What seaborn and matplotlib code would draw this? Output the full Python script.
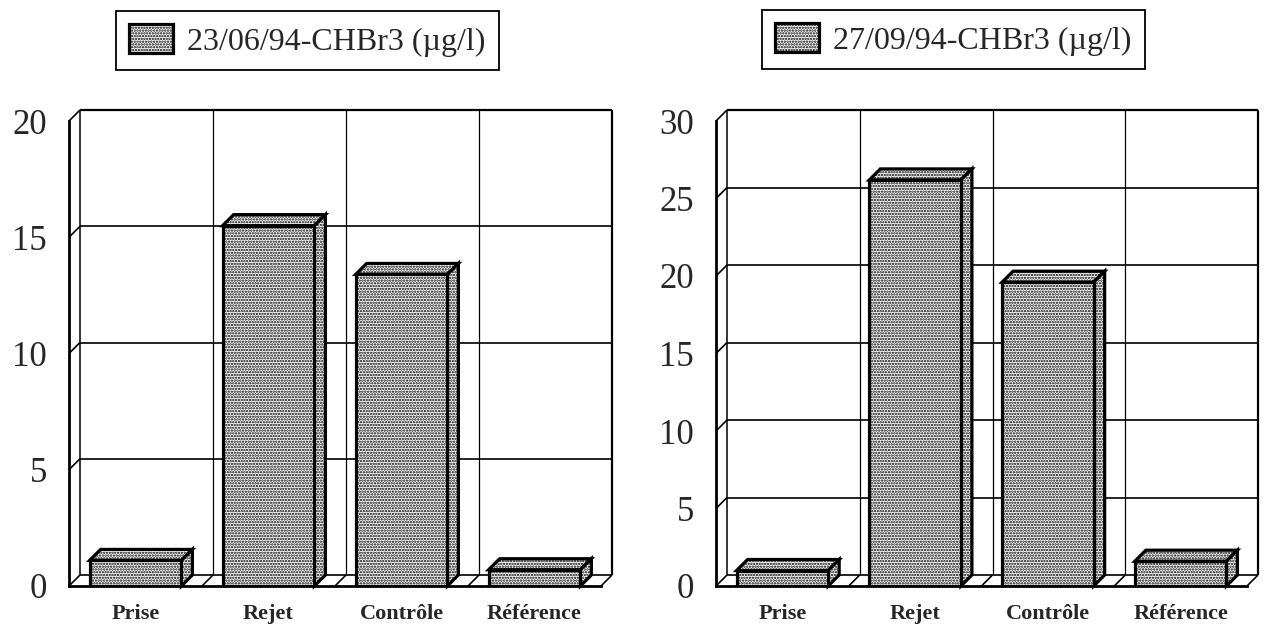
import matplotlib
matplotlib.use("Agg")
import matplotlib.pyplot as plt
from matplotlib.patches import Polygon, Patch
import pandas as pd
import seaborn as sns

# Sampling sites and CHBr3 concentrations (µg/l) for the two campaigns
categories = ["Prise", "Rejet", "Contrôle", "Référence"]
june_values = [1.1, 15.5, 13.4, 0.7]
sept_values = [1.0, 26.2, 19.6, 1.6]
june_label = "23/06/94-CHBr3 (µg/l)"
sept_label = "27/09/94-CHBr3 (µg/l)"
june_ticks = [0, 5, 10, 15, 20]
sept_ticks = [0, 5, 10, 15, 20, 25, 30]

W, H = 1266, 633
DEPTH = 11          # pseudo-3D depth offset, in pixels
HATCH = "......"    # stippled fill
EDGE_LW = 2.3

sns.set_style("white")
plt.rcParams["font.family"] = ["Liberation Serif", "DejaVu Serif"]
plt.rcParams["hatch.linewidth"] = 1.15

fig = plt.figure(figsize=(W / 100, H / 100), dpi=100)


def px_axes(left, top, right, bottom):
    return fig.add_axes([left / W, 1 - bottom / H, (right - left) / W, (bottom - top) / H])


def draw_panel(ax, values, ticks, label, legend_xy):
    df = pd.DataFrame({"site": categories, "value": values})
    sns.barplot(data=df, x="site", y="value", ax=ax, width=0.69, color="white",
                saturation=1, edgecolor="black", linewidth=EDGE_LW, errorbar=None)
    top = ticks[-1]
    ax.set_xlim(-0.5, len(categories) - 0.5)
    ax.set_ylim(0, top)
    x0, x1 = ax.get_xlim()

    # depth offsets converted to data units
    ddx = DEPTH * (x1 - x0) / ax.bbox.width
    ddy = DEPTH * top / ax.bbox.height

    line = dict(color="black", clip_on=False, zorder=1, solid_capstyle="butt")
    # back wall: horizontal gridlines, floor edge, top edge
    for t in ticks[1:-1]:
        ax.plot([x0 + ddx, x1 + ddx], [t + ddy] * 2, lw=1.2, **line)
    ax.plot([x0 + ddx, x1 + ddx], [ddy] * 2, lw=1.2, **line)
    ax.plot([x0 + ddx, x1 + ddx], [top + ddy] * 2, lw=1.6, **line)
    # back wall: category separators and side edges
    bounds = [x0 + i for i in range(len(categories) + 1)]
    for b in bounds[1:-1]:
        ax.plot([b + ddx] * 2, [ddy, top + ddy], lw=0.9, **line)
    ax.plot([x0 + ddx] * 2, [ddy, top + ddy], lw=1.1, **line)
    ax.plot([x1 + ddx] * 2, [ddy, top + ddy], lw=1.6, **line)
    # left wall diagonals at each tick
    for t in ticks:
        ax.plot([x0, x0 + ddx], [t, t + ddy], lw=1.2, **line)
    # floor diagonals at category boundaries
    for b in bounds[1:]:
        ax.plot([b, b + ddx], [0, ddy], lw=1.2, **line)

    # bars: front faces plus top and side faces
    for p in ax.patches:
        p.set_hatch(HATCH)
        p.set_zorder(4)
        x, w, h = p.get_x(), p.get_width(), p.get_height()
        top_face = [(x, h), (x + w, h), (x + w + ddx, h + ddy), (x + ddx, h + ddy)]
        side_face = [(x + w, 0), (x + w + ddx, ddy), (x + w + ddx, h + ddy), (x + w, h)]
        for poly in (top_face, side_face):
            ax.add_patch(Polygon(poly, closed=True, facecolor="white", edgecolor="black",
                                 hatch=HATCH, lw=EDGE_LW, joinstyle="miter",
                                 clip_on=False, zorder=3.5))

    # axes lines and ticks
    for s in ("top", "right"):
        ax.spines[s].set_visible(False)
    for s in ("left", "bottom"):
        ax.spines[s].set_linewidth(2.0)
        ax.spines[s].set_color("black")
        ax.spines[s].set_zorder(5)
    ax.set_yticks(ticks)
    ax.tick_params(axis="y", which="major", direction="out", length=5, width=2,
                   labelsize=25, pad=11, color="black")
    ax.set_xticks(range(len(categories)))
    ax.set_xticklabels(categories, fontsize=16, fontweight="bold")
    ax.set_xticks(bounds, minor=True)
    ax.tick_params(axis="x", which="major", length=0, pad=13)
    ax.tick_params(axis="x", which="minor", direction="out", length=5, width=2, color="black")
    ax.set_xlabel("")
    ax.set_ylabel("")
    ax.grid(False)
    ax.patch.set_alpha(0)

    handle = Patch(facecolor="white", edgecolor="black", hatch=HATCH, linewidth=EDGE_LW)
    leg = ax.legend([handle], [label], loc="upper left",
                    bbox_to_anchor=(legend_xy[0] / W, 1 - legend_xy[1] / H),
                    bbox_transform=fig.transFigure, borderaxespad=0, frameon=True,
                    fancybox=False, framealpha=1, edgecolor="black", prop={"size": 23},
                    handlelength=1.35, handleheight=1.0, handletextpad=0.45, borderpad=0.42)
    leg.get_frame().set_linewidth(1.3)


ax_left = px_axes(69, 121, 601, 586)
ax_right = px_axes(716, 121, 1247, 586)
draw_panel(ax_left, june_values, june_ticks, june_label, (116, 11))
draw_panel(ax_right, sept_values, sept_ticks, sept_label, (762, 10))

fig.savefig("out.png", dpi=100)
